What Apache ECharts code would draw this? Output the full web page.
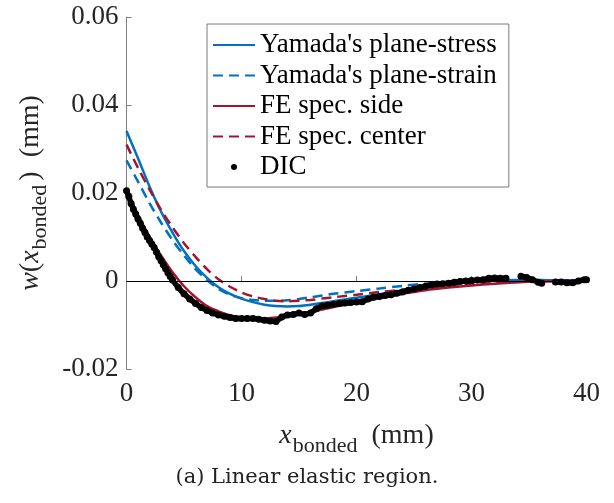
<!DOCTYPE html>
<html>
<head>
<meta charset="utf-8">
<script src="https://cdn.jsdelivr.net/npm/echarts@6/dist/echarts.min.js"></script>
<style>html,body{margin:0;padding:0;background:#fff}#c{width:614px;height:503px}</style>
</head>
<body>
<div id="c"></div>
<script>
// x positions (mm) for model curves
var xModel = [0,1,2,3,4,5,6,7,8,9,10,11,12,13,14,15,16,17,18,19,20,22,24,26,28,30,32,34,36,38,40];
var yamadaStress = [0.0341,0.0279,0.0215,0.0158,0.0110,0.0068,0.0034,0.0007,-0.0014,-0.0029,-0.0040,-0.0048,-0.0054,-0.0057,-0.0058,-0.0057,-0.0054,-0.0050,-0.0046,-0.0042,-0.0038,-0.0030,-0.0021,-0.0012,-0.0006,-0.0002,0.0001,0.0002,0.0002,0.0001,0.0001];
var yamadaStrain = [0.0274,0.0226,0.0177,0.0133,0.0093,0.0058,0.0027,0.0002,-0.0018,-0.0031,-0.0039,-0.0043,-0.0045,-0.0045,-0.0044,-0.0041,-0.0037,-0.0033,-0.0029,-0.0026,-0.0023,-0.0017,-0.0011,-0.0006,-0.0002,0.0000,0.0001,0.0001,0.0001,0.0001,0.0001];
var feSide = [0.0205,0.0150,0.0101,0.0058,0.0020,-0.0012,-0.0037,-0.0057,-0.0069,-0.0078,-0.0083,-0.0085,-0.0085,-0.0083,-0.0080,-0.0076,-0.0071,-0.0065,-0.0059,-0.0054,-0.0048,-0.0038,-0.0029,-0.0021,-0.0015,-0.0010,-0.0006,-0.0003,-0.0001,0.0000,0.0000];
var feCenter = [0.0310,0.0257,0.0208,0.0162,0.0122,0.0086,0.0055,0.0027,0.0004,-0.0013,-0.0026,-0.0035,-0.0041,-0.0045,-0.0046,-0.0045,-0.0043,-0.0040,-0.0037,-0.0034,-0.0031,-0.0025,-0.0020,-0.0015,-0.0011,-0.0007,-0.0004,-0.0002,-0.0001,0.0000,0.0000];

// DIC measurement points (null = gap in the measurement)
var dicX = [0.0,0.2,0.4,0.6,0.8,1.0,1.2,1.4,1.6,1.8,2.0,2.2,2.4,2.6,2.8,3.0,3.2,3.4,3.6,3.8,4.0,
  4.5,5.0,5.5,6.0,6.5,7.0,7.5,8.0,8.5,9.0,9.5,10.0,10.5,11.0,11.5,12.0,12.5,13.0,13.5,14.0,14.5,15.0,15.5,16.0,16.5,17.0,17.5,18.0,18.5,19.0,19.5,20.0,20.5,21.0,21.5,22.0,22.5,23.0,23.5,24.0,24.5,25.0,25.5,26.0,26.5,27.0,27.5,28.0,28.5,29.0,29.5,30.0,30.5,31.0,31.5,32.0,32.5,33.0,
  33.6,
  34.3,34.8,35.3,35.8,36.1,
  36.7,
  37.3,37.8,38.3,38.8,39.3,39.8,40.0];
var dicW = [0.0205,0.0192,0.0176,0.0163,0.0152,0.0141,0.0131,0.0120,0.0110,0.0100,0.0092,0.0084,0.0076,0.0066,0.0055,0.0046,0.0037,0.0028,0.0019,0.0010,0.0002,
  -0.0015,-0.0029,-0.0041,-0.0051,-0.0060,-0.0067,-0.0073,-0.0077,-0.0080,-0.0083,-0.0085,-0.0085,-0.0085,-0.0085,-0.0087,-0.0089,-0.0091,-0.0092,-0.0082,-0.0077,-0.0076,-0.0073,-0.0076,-0.0073,-0.0063,-0.0057,-0.0055,-0.0053,-0.0051,-0.0050,-0.0049,-0.0048,-0.0047,-0.0041,-0.0037,-0.0035,-0.0033,-0.0031,-0.0028,-0.0025,-0.0021,-0.0018,-0.0015,-0.0012,-0.0009,-0.0007,-0.0006,-0.0005,-0.0003,-0.0001,0.0000,0.0001,0.0002,0.0003,0.0006,0.0007,0.0006,0.0006,
  null,
  0.0011,0.0008,0.0003,-0.0003,-0.0005,
  null,
  -0.0002,-0.0002,-0.0004,-0.0004,0.0000,0.0003,0.0003];

var xTicks = [0,10,20,30,40];
var yTicks = [-0.02,0,0.02,0.04,0.06];
var seriesNames = ["Yamada's plane-stress","Yamada's plane-strain","FE spec. side","FE spec. center","DIC"];
var caption = "(a) Linear elastic region.";

function pairs(xs, ys){ return xs.map(function(x,i){ return [x, ys[i] === null ? '-' : ys[i]]; }); }

var SERIF = "'Liberation Serif', 'Times New Roman', serif";
var BLUE = '#0072BD', RED = '#A2142F', TXT = '#262626';
var chart = echarts.init(document.getElementById('c'), null, {renderer:'canvas'});

function lineSeries(name, ys, color, dashed){
  return {
    name: name, type: 'line', data: pairs(xModel, ys), symbol: 'none', smooth: 0.3,
    lineStyle: {color: color, width: 2.5, type: dashed ? [10,6] : 'solid'},
    itemStyle: {color: color}, z: 3, silent: true
  };
}
function nameRich(padRight){
  return {
    i: {fontFamily: SERIF, fontSize: 28, fontStyle: 'italic', color: TXT},
    s: {fontFamily: SERIF, fontSize: 22, color: TXT, padding: [20, padRight, 0, 1]},
    n: {fontFamily: SERIF, fontSize: 28, color: TXT}
  };
}

chart.setOption({
  animation: false,
  backgroundColor: '#fff',
  grid: {left: 126.5, right: 27.5, top: 17, bottom: 134, containLabel: false},
  xAxis: {
    type: 'value', min: xTicks[0], max: xTicks[xTicks.length-1], interval: 10,
    axisLine: {lineStyle: {color: '#808080', width: 1}},
    axisTick: {inside: true, length: 5, lineStyle: {color: '#808080'}},
    splitLine: {show: false},
    axisLabel: {fontFamily: SERIF, fontSize: 27, color: TXT, margin: 11},
    name: '{i|x}{s|bonded}{n|(mm)}', nameLocation: 'middle', nameGap: 46,
    nameTextStyle: {fontFamily: SERIF, fontSize: 28, color: TXT, rich: nameRich(14)}
  },
  yAxis: {
    type: 'value', min: yTicks[0], max: yTicks[yTicks.length-1], interval: 0.02,
    axisLine: {show: true, lineStyle: {color: '#808080', width: 1}},
    axisTick: {show: true, inside: true, length: 5, lineStyle: {color: '#808080'}},
    splitLine: {show: false},
    axisLabel: {fontFamily: SERIF, fontSize: 27, color: TXT, margin: 8,
      formatter: function(v){ return Math.abs(v) < 1e-9 ? '0' : v.toFixed(2); }},
    name: '{i|w}{n|(}{i|x}{s|bonded}{n|)  (mm)}', nameLocation: 'middle', nameGap: 75, nameRotate: 90,
    nameTextStyle: {fontFamily: SERIF, fontSize: 28, color: TXT, rich: nameRich(4)}
  },
  legend: {
    orient: 'vertical', left: 207, top: 24,
    padding: [6, 12, 5, 5],
    backgroundColor: '#fff', borderColor: '#7a7a7a', borderWidth: 1,
    itemWidth: 42, itemHeight: 6, itemGap: 0.5,
    textStyle: {fontFamily: SERIF, fontSize: 27, color: '#000', lineHeight: 30},
    data: seriesNames.map(function(n){
      return n === 'DIC'
        ? {name: n, icon: 'circle', itemStyle: {color: '#000', opacity: 1}}
        : {name: n, itemStyle: {opacity: 0}};
    }),
    selectedMode: false
  },
  series: [
    lineSeries(seriesNames[0], yamadaStress, BLUE, false),
    lineSeries(seriesNames[1], yamadaStrain, BLUE, true),
    lineSeries(seriesNames[2], feSide, RED, false),
    lineSeries(seriesNames[3], feCenter, RED, true),
    {
      name: seriesNames[4], type: 'line', data: pairs(dicX, dicW), connectNulls: false,
      symbol: 'circle', symbolSize: 7, showSymbol: true, showAllSymbol: true,
      lineStyle: {color: '#000', width: 5.5},
      itemStyle: {color: '#000', opacity: 1}, z: 4, silent: true
    },
    {
      name: 'zero', type: 'line', data: [], silent: true,
      markLine: {silent: true, symbol: 'none', label: {show: false},
        lineStyle: {color: '#000', width: 1, type: 'solid'},
        data: [{yAxis: 0}]}, z: 2
    }
  ],
  graphic: [{
    type: 'text', left: 'center', top: 467,
    style: {text: caption, fontFamily: "'DejaVu Serif', serif", fontSize: 21, fill: '#222'}
  }]
});
</script>
</body>
</html>
